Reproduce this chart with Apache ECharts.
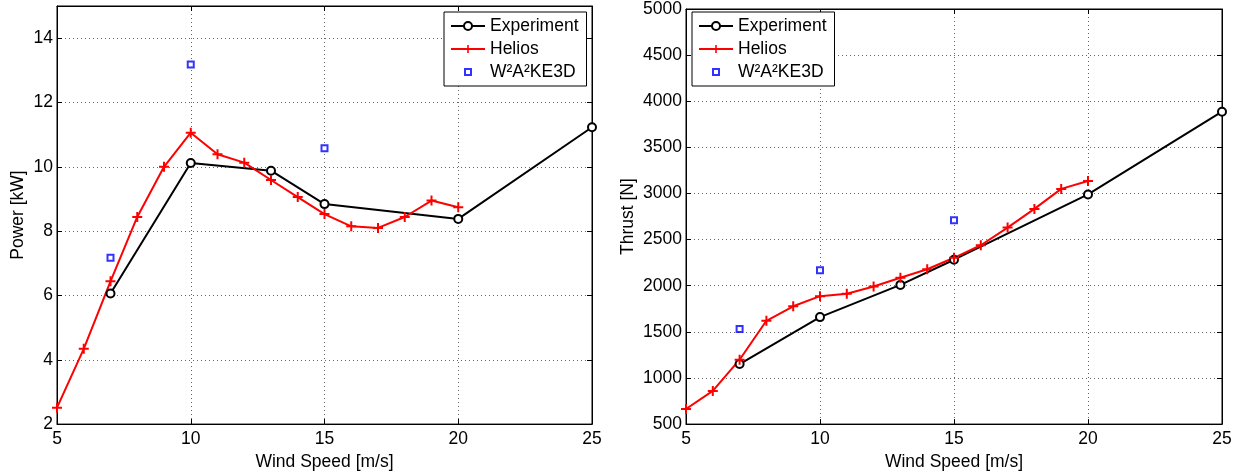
<!DOCTYPE html>
<html>
<head>
<meta charset="utf-8">
<script src="https://cdn.jsdelivr.net/npm/echarts@6/dist/echarts.min.js"></script>
<style>
  html, body { margin: 0; padding: 0; background: #fff; }
  #chart { width: 1241px; height: 476px; }
</style>
</head>
<body>
<div id="chart"></div>
<script>
// wind speeds
const expSpeed = [7, 10, 13, 15, 20, 25];
const heliosSpeed = [5, 6, 7, 8, 9, 10, 11, 12, 13, 14, 15, 16, 17, 18, 19, 20];
const w2SpeedList = [7, 10, 15];

// power [kW]
const expPower = [6.06, 10.12, 9.88, 8.84, 8.38, 11.23];
const heliosPower = [2.51, 4.34, 6.44, 8.44, 10.0, 11.06, 10.39, 10.13, 9.59, 9.06, 8.53, 8.15, 8.10, 8.44, 8.95, 8.74];
const w2Power = [7.17, 13.18, 10.58];

// thrust [N]
const expThrust = [1151, 1660, 2009, 2282, 2990, 3887];
const heliosThrust = [664, 860, 1198, 1620, 1777, 1887, 1913, 1991, 2087, 2179, 2303, 2439, 2630, 2833, 3050, 3135];
const w2Thrust = [1532, 2169, 2709];

const names = ['Experiment', 'Helios', 'W²A²KE3D'];
const font = 'Liberation Sans, Arial, sans-serif';
const fs = 17.5;

const pairs = (xs, ys) => xs.map((x, i) => [x, ys[i]]);
const plus = 'path://M4,0 H6 V4 H10 V6 H6 V10 H4 V6 H0 V4 H4 Z';
// small square centred in a 34x10 box so the legend icon is not stretched
const squareIcon = 'path://M0,0 L0.01,0 M34,10 L33.99,10 M14,2 H20 V8 H14 Z';

const chart = echarts.init(document.getElementById('chart'));

const grid = [
  { left: 57, top: 6, width: 535, height: 422 },
  { left: 686, top: 6, width: 536, height: 422 }
];
grid.forEach(g => Object.assign(g, { show: true, borderColor: '#000', borderWidth: 1, backgroundColor: '#fff' }));

const gridLine = { show: true, lineStyle: { color: '#666', type: [1, 3], width: 1 } };
const tick = { show: true, inside: true, length: 5, lineStyle: { color: '#000' } };
const label = { color: '#000', fontSize: fs, fontFamily: font, formatter: v => String(v) };

const xAxes = [];
const yAxes = [];
[0, 1].forEach(g => {
  xAxes.push({
    type: 'value', gridIndex: g, min: 5, max: 25, interval: 5, position: 'bottom',
    name: 'Wind Speed [m/s]', nameLocation: 'middle', nameGap: 24,
    nameTextStyle: { color: '#000', fontSize: fs, fontFamily: font },
    axisLine: { show: true, lineStyle: { color: '#000' } },
    axisTick: tick, axisLabel: Object.assign({ margin: 6 }, label), splitLine: gridLine
  });
  xAxes.push({
    type: 'value', gridIndex: g, min: 5, max: 25, interval: 5, position: 'top',
    axisLine: { show: true, lineStyle: { color: '#000' } },
    axisTick: tick, axisLabel: { show: false }, splitLine: { show: false }
  });
});

yAxes.push({
  type: 'value', gridIndex: 0, min: 2, max: 15, interval: 2, position: 'left',
  name: 'Power [kW]', nameLocation: 'middle', nameGap: 30,
  nameTextStyle: { color: '#000', fontSize: fs, fontFamily: font },
  axisLine: { show: true, lineStyle: { color: '#000' } },
  axisTick: tick, axisLabel: Object.assign({ margin: 4, showMaxLabel: false }, label), splitLine: gridLine
});
yAxes.push({
  type: 'value', gridIndex: 0, min: 2, max: 15, interval: 2, position: 'right',
  axisLine: { show: true, lineStyle: { color: '#000' } },
  axisTick: tick, axisLabel: { show: false }, splitLine: { show: false }
});
yAxes.push({
  type: 'value', gridIndex: 1, min: 500, max: 5000, interval: 500, position: 'left',
  name: 'Thrust [N]', nameLocation: 'middle', nameGap: 49,
  nameTextStyle: { color: '#000', fontSize: fs, fontFamily: font },
  axisLine: { show: true, lineStyle: { color: '#000' } },
  axisTick: tick, axisLabel: Object.assign({ margin: 4 }, label), splitLine: gridLine
});
yAxes.push({
  type: 'value', gridIndex: 1, min: 500, max: 5000, interval: 500, position: 'right',
  axisLine: { show: true, lineStyle: { color: '#000' } },
  axisTick: tick, axisLabel: { show: false }, splitLine: { show: false }
});

const makeSeries = (xi, yi, expY, helY, w2Y) => [
  {
    name: names[0], type: 'line', xAxisIndex: xi, yAxisIndex: yi,
    data: pairs(expSpeed, expY),
    symbol: 'emptyCircle', symbolSize: 8,
    lineStyle: { color: '#000', width: 2 },
    itemStyle: { color: '#000', borderWidth: 2 }
  },
  {
    name: names[1], type: 'line', xAxisIndex: xi, yAxisIndex: yi,
    data: pairs(heliosSpeed, helY),
    symbol: plus, symbolSize: 10,
    lineStyle: { color: '#f00', width: 2 },
    itemStyle: { color: '#f00' }
  },
  {
    name: names[2], type: 'scatter', xAxisIndex: xi, yAxisIndex: yi,
    data: pairs(w2SpeedList, w2Y),
    symbol: 'rect', symbolSize: 6,
    itemStyle: { color: '#fff', borderColor: '#00f', borderWidth: 2 }
  }
];

const legendBase = {
  orient: 'vertical', top: 12,
  data: [names[0], names[1], { name: names[2], icon: squareIcon }],
  backgroundColor: '#fff', borderColor: '#000', borderWidth: 1, borderRadius: 0,
  padding: [5, 8, 5, 6], itemGap: 5, itemWidth: 34, itemHeight: 10,
  textStyle: { color: '#000', fontSize: fs, fontFamily: font }
};

chart.setOption({
  animation: false,
  backgroundColor: '#fff',
  grid: grid,
  xAxis: xAxes,
  yAxis: yAxes,
  legend: [
    Object.assign({ left: 444 }, legendBase),
    Object.assign({ left: 692 }, legendBase)
  ],
  series: makeSeries(0, 0, expPower, heliosPower, w2Power)
    .concat(makeSeries(2, 2, expThrust, heliosThrust, w2Thrust))
});
</script>
</body>
</html>
